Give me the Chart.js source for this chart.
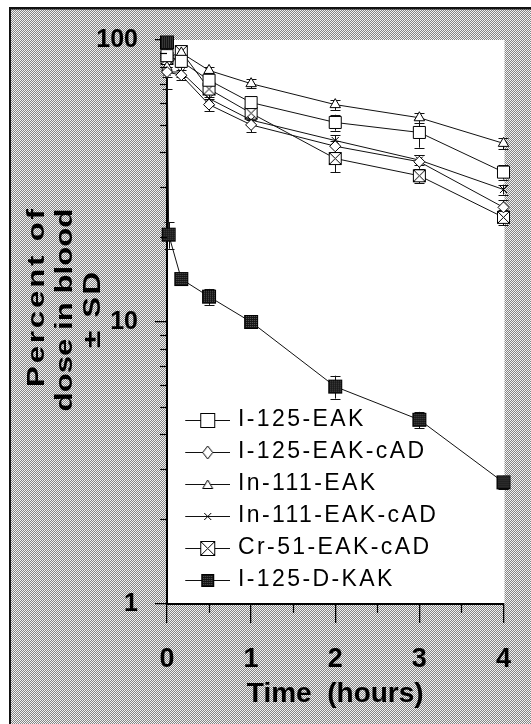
<!DOCTYPE html>
<html><head><meta charset="utf-8">
<script src="https://cdn.jsdelivr.net/npm/chart.js@4"></script>
<style>html,body{margin:0;padding:0;background:#fff;overflow:hidden}canvas{display:block}</style>
</head><body>
<canvas id="c" width="531" height="724"></canvas>
<script>
// ---- data ----
const times = [0, 0.17, 0.5, 1, 2, 3, 4];
const dkakTimes = [0, 0.02, 0.17, 0.5, 1, 2, 3, 4];
const seriesNames = ['I-125-EAK', 'I-125-EAK-cAD', 'In-111-EAK', 'In-111-EAK-cAD', 'Cr-51-EAK-cAD', 'I-125-D-KAK'];
const i125eak     = [88, 84, 72, 60, 51, 47, 34];
const i125eakcad  = [77, 75, 59, 50, 42, 37, 25.5];
const in111eak    = [80, 90, 78, 70, 59, 53, 43];
const in111eakcad = [77, 77, 62, 52, 44, 37.5, 29.5];
const cr51eakcad  = [86, 91, 67, 55, 38, 33, 23.5];
const i125dkak    = [98, 20.4, 14.2, 12.3, 10.0, 5.9, 4.5, 2.7];
const sdI125eak     = [4, 4, 4, 3, 3.3, 5.5, 2];
const sdI125eakcad  = [3, 3, 3, 3, 2, 2, 1.5];
const sdIn111eak    = [3, 5, 2, 2.5, 2.5, 2.2, 2];
const sdIn111eakcad = [10, 3, 3, 2, 2, 1.5, 1.2];
const sdCr51eakcad  = [6, 4, 4, 3, 4, 2, 1.5];
const sdI125dkak    = [2, 2.2, 0.6, 0.8, 0.3, 0.55, 0.3, 0.15];
const xTicks = [0, 1, 2, 3, 4];
const xMinorTicks = [0.5, 1.5, 2.5, 3.5];
const yTicks = [1, 10, 100];
const yMinorTicks = [2, 3, 4, 5, 6, 7, 8, 9, 20, 30, 40, 50, 60, 70, 80, 90];
const xTitle = 'Time  (hours)';
const yTitleLines = ['Percent of', 'dose in blood', '\u00B1 SD'];

// ---- helpers ----
function mk(w, h) { const c = document.createElement('canvas'); c.width = w; c.height = h; return c; }
const stipple = (() => { const c = mk(2, 2), g = c.getContext('2d');
  g.fillStyle = '#f2f2f2'; g.fillRect(0, 0, 2, 2);
  g.fillStyle = '#848484'; g.fillRect(1, 0, 1, 1); g.fillRect(0, 1, 1, 1); return c; })();
const darkStipple = (() => { const c = mk(2, 2), g = c.getContext('2d');
  g.fillStyle = '#151515'; g.fillRect(0, 0, 2, 2);
  g.fillStyle = '#5a5a5a'; g.fillRect(1, 0, 1, 1); return c; })();

function drawMarker(g, kind, cx, cy, s) {
  g.save(); g.lineWidth = 1; g.strokeStyle = '#000'; g.fillStyle = '#fff';
  if (kind === 'square') { g.fillRect(cx - s/2, cy - s/2, s, s); g.strokeRect(cx - s/2, cy - s/2, s, s); }
  else if (kind === 'xsquare') { g.fillRect(cx - s/2, cy - s/2, s, s); g.strokeRect(cx - s/2, cy - s/2, s, s);
    g.beginPath(); g.moveTo(cx - s/2, cy - s/2); g.lineTo(cx + s/2, cy + s/2); g.moveTo(cx + s/2, cy - s/2); g.lineTo(cx - s/2, cy + s/2); g.stroke(); }
  else if (kind === 'fsquare') { g.fillStyle = g.createPattern(darkStipple, 'repeat'); g.fillRect(cx - s/2, cy - s/2, s, s); g.strokeRect(cx - s/2, cy - s/2, s, s); }
  else if (kind === 'diamond') { g.beginPath(); g.moveTo(cx, cy - s*0.65); g.lineTo(cx + s/2, cy); g.lineTo(cx, cy + s*0.65); g.lineTo(cx - s/2, cy); g.closePath(); g.fill(); g.stroke(); }
  else if (kind === 'triangle') { g.beginPath(); g.moveTo(cx, cy - s*0.45); g.lineTo(cx + s/2, cy + s*0.4); g.lineTo(cx - s/2, cy + s*0.4); g.closePath(); g.fill(); g.stroke(); }
  else if (kind === 'cross') { g.beginPath(); g.moveTo(cx - s/2, cy - s/2); g.lineTo(cx + s/2, cy + s/2); g.moveTo(cx + s/2, cy - s/2); g.lineTo(cx - s/2, cy + s/2); g.stroke(); }
  g.restore();
}
function pointImg(kind, s) { const c = mk(s + 3, s + 3); drawMarker(c.getContext('2d'), kind, (s + 3) / 2, (s + 3) / 2, s); return c; }
function legendImg(kind, s) { const c = mk(58, 24), g = c.getContext('2d');
  g.strokeStyle = '#111'; g.lineWidth = 1; g.beginPath(); g.moveTo(13, 12.5); g.lineTo(58, 12.5); g.stroke();
  drawMarker(g, kind, 35.5, 12.5, s); return c; }
const kinds = ['square', 'diamond', 'triangle', 'cross', 'xsquare', 'fsquare'];
const legendSizes = [14, 10, 10, 7, 14, 12];
const legendImgs = kinds.map((k, i) => legendImg(k, legendSizes[i]));
const xsqImg = pointImg('xsquare', 12);
const fsqImg = pointImg('fsquare', 13);

function pts(xs, ys) { return xs.map((x, i) => ({ x: x, y: ys[i] })); }
function ds(label, xs, ys, sd, style, r) {
  return { label: label, data: pts(xs, ys), sd: sd, borderColor: '#111', borderWidth: 1, tension: 0, clip: false,
    pointStyle: style, pointRadius: r, pointHoverRadius: r, pointBackgroundColor: '#fff', pointBorderColor: '#000', pointBorderWidth: 1 };
}

const FONT = 'Liberation Sans, Arial, Helvetica, sans-serif';

const bgPlugin = {
  id: 'bg',
  beforeDraw(chart) {
    const g = chart.ctx, W = chart.width, H = chart.height, a = chart.chartArea;
    g.save();
    g.fillStyle = '#fff'; g.fillRect(0, 0, W, H);
    g.fillStyle = g.createPattern(stipple, 'repeat'); g.fillRect(11, 9, W - 11, H - 9);
    g.fillStyle = '#111'; g.fillRect(9, 7, W - 9, 2.5); g.fillRect(9, 7, 2, H - 7);
    g.fillStyle = '#fff'; g.fillRect(a.left, a.top, a.right - a.left + 1, a.bottom - a.top);
    g.restore();
    const lg = chart.legend;
    if (lg && !lg._ls) {
      const orig = lg.draw.bind(lg);
      lg.draw = function (ca) { const c = chart.ctx; c.save(); c.translate(0, chart.chartArea.top - 3.5); c.letterSpacing = '2.4px'; orig(ca); c.restore(); };
      lg._ls = true;
    }
  },
  beforeDatasetsDraw(chart) {
    const g = chart.ctx, xs = chart.scales.x, ys = chart.scales.y;
    g.save(); g.strokeStyle = '#111'; g.lineWidth = 1;
    chart.data.datasets.forEach(d => {
      d.data.forEach((p, j) => {
        const e = d.sd[j]; if (!e) return;
        const px = Math.round(xs.getPixelForValue(p.x)) + 0.5;
        const y1 = ys.getPixelForValue(p.y + e), y2 = ys.getPixelForValue(Math.max(p.y - e, 1.01));
        g.beginPath(); g.moveTo(px, y1); g.lineTo(px, y2);
        g.moveTo(px - 5, Math.round(y1) + 0.5); g.lineTo(px + 5, Math.round(y1) + 0.5);
        g.moveTo(px - 5, Math.round(y2) + 0.5); g.lineTo(px + 5, Math.round(y2) + 0.5); g.stroke();
      });
    });
    g.restore();
  },
  afterDraw(chart) {
    const g = chart.ctx, xs = chart.scales.x, ys = chart.scales.y, a = chart.chartArea;
    g.save(); g.strokeStyle = '#000'; g.lineWidth = 1.2;
    xMinorTicks.forEach(v => { const px = Math.round(xs.getPixelForValue(v)) + 0.5; g.beginPath(); g.moveTo(px, a.bottom); g.lineTo(px, a.bottom + 9); g.stroke(); });
    yMinorTicks.forEach(v => { const py = Math.round(ys.getPixelForValue(v)) + 0.5; g.beginPath(); g.moveTo(a.left, py); g.lineTo(a.left - 7, py); g.stroke(); });
    // y title (rotated, stretched along reading direction)
    g.fillStyle = '#000'; g.font = 'bold 24px ' + FONT; g.textAlign = 'center'; g.textBaseline = 'middle';
    const stretch = 1.3;
    const pos = [[37, 298, 178], [65, 310, 200], [93, 310, 76]];
    yTitleLines.forEach((t, i) => {
      g.letterSpacing = '0px';
      const w0 = g.measureText(t).width * stretch;
      const sp = Math.max(0, (pos[i][2] - w0) / (t.length - 1)) / stretch;
      g.letterSpacing = sp.toFixed(2) + 'px';
      g.save(); g.translate(pos[i][0], pos[i][1]); g.rotate(-Math.PI / 2); g.scale(stretch, 1);
      g.fillText(t, sp / 2, 0); g.restore();
    });
    g.restore();
  }
};

const datasets = [
  ds(seriesNames[0], times, i125eak, sdI125eak, 'rect', 8.5),
  ds(seriesNames[1], times, i125eakcad, sdI125eakcad, 'rectRot', 5.5),
  ds(seriesNames[2], times, in111eak, sdIn111eak, 'triangle', 6),
  ds(seriesNames[3], times, in111eakcad, sdIn111eakcad, 'crossRot', 5),
  ds(seriesNames[4], times, cr51eakcad, sdCr51eakcad, xsqImg, 7),
  ds(seriesNames[5], dkakTimes, i125dkak, sdI125dkak, fsqImg, 7)
];

new Chart(document.getElementById('c'), {
  type: 'line',
  data: { datasets: datasets },
  plugins: [bgPlugin],
  options: {
    responsive: false, animation: false, events: [],
    layout: { padding: { left: 0, right: 14, top: 40, bottom: 0 } },
    plugins: {
      tooltip: { enabled: false },
      legend: {
        position: 'chartArea', align: 'end',
        labels: {
          usePointStyle: true, pointStyleWidth: 50.5, padding: 9, color: '#000',
          font: { family: FONT, size: 23, weight: 'normal' },
          generateLabels: (chart) => seriesNames.map((n, i) => ({ text: n, pointStyle: legendImgs[i], datasetIndex: i, fontColor: '#000', lineWidth: 0, strokeStyle: 'rgba(0,0,0,0)', fillStyle: 'rgba(0,0,0,0)' }))
        }
      }
    },
    scales: {
      x: {
        type: 'linear', min: 0, max: 4,
        afterBuildTicks: (s) => { s.ticks = xTicks.map(v => ({ value: v })); },
        afterFit: (s) => { s.height = 120; },
        grid: { display: true, drawOnChartArea: false, drawTicks: true, tickLength: 19, color: '#000', lineWidth: 1.3 },
        border: { display: true, color: '#000', width: 2 },
        ticks: { color: '#000', padding: 20, maxRotation: 0, font: { family: FONT, size: 27, weight: 'bold' }, callback: (v) => String(v) },
        title: { display: true, text: xTitle, color: '#000', padding: { top: 0, bottom: 13 }, font: { family: FONT, size: 28, weight: 'bold' } }
      },
      y: {
        type: 'logarithmic', min: 1, max: 100,
        afterBuildTicks: (s) => { s.ticks = yTicks.map(v => ({ value: v, major: true })); },
        afterFit: (s) => { s.width = 167; },
        grid: { display: true, drawOnChartArea: false, drawTicks: true, tickLength: 12, color: '#000', lineWidth: 1.3 },
        border: { display: true, color: '#000', width: 2 },
        ticks: { color: '#000', padding: 17, font: { family: FONT, size: 25, weight: 'bold' }, callback: (v) => String(v) }
      }
    }
  }
});
</script>
</body></html>
